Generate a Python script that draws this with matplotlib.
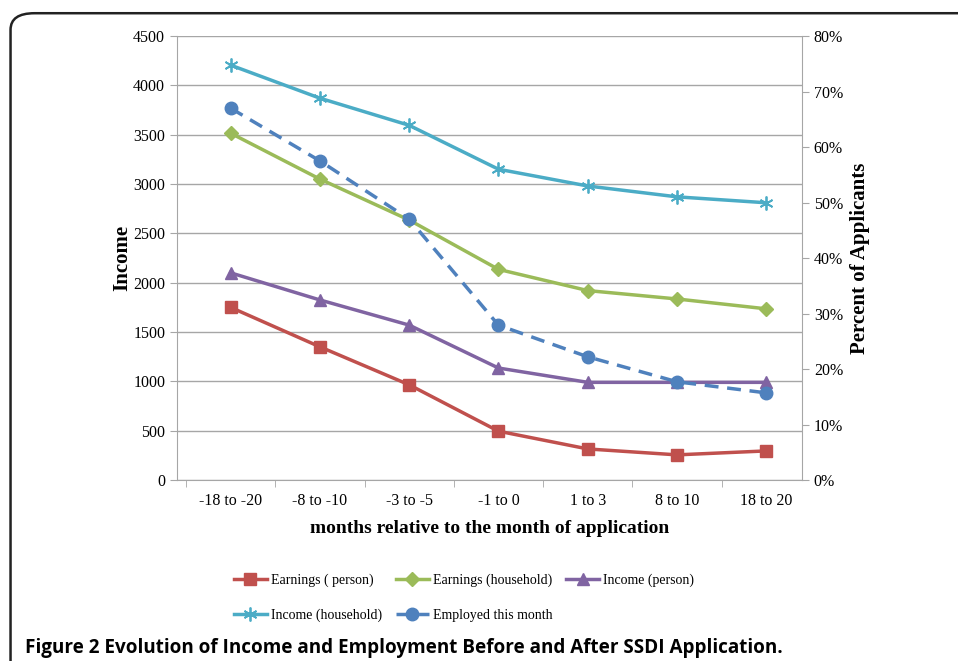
import matplotlib.pyplot as plt
from matplotlib.patches import FancyBboxPatch
from matplotlib.ticker import FuncFormatter, MultipleLocator
import numpy as np

categories = ["-18 to -20", "-8 to -10", "-3 to -5", "-1 to 0", "1 to 3", "8 to 10", "18 to 20"]
earn_person = [1750, 1350, 965, 495, 315, 255, 295]
earn_household = [3515, 3050, 2635, 2135, 1920, 1835, 1735]
inc_person = [2100, 1825, 1570, 1135, 990, 990, 990]
inc_household = [4205, 3870, 3595, 3150, 2980, 2870, 2810]
employed = [0.670, 0.575, 0.470, 0.279, 0.222, 0.177, 0.157]

serif = "Liberation Serif"
grey = "#a6a6a6"

fig = plt.figure(figsize=(9.58, 6.61), dpi=100)

# rounded frame around the figure
frame = FancyBboxPatch((0.011, -0.05), 1.05, 1.03, boxstyle="round,pad=0,rounding_size=0.025",
                       transform=fig.transFigure, fill=False, edgecolor="#222222", linewidth=1.8)
fig.patches.append(frame)

ax = fig.add_axes([0.1848, 0.2738, 0.6524, 0.6717])
x = np.arange(len(categories))

l1, = ax.plot(x, earn_person, color="#C0504D", lw=2.5, marker="s", ms=9, label="Earnings ( person)")
l2, = ax.plot(x, earn_household, color="#9BBB59", lw=2.5, marker="D", ms=7, label="Earnings (household)")
l3, = ax.plot(x, inc_person, color="#8064A2", lw=2.5, marker="^", ms=9, label="Income (person)")
l4, = ax.plot(x, inc_household, color="#4BACC6", lw=2.5, marker=(6, 2, 0), ms=10, mew=1.3,
              label="Income (household)")

ax.set_xlim(-0.6, 6.4)
ax.set_ylim(0, 4500)
ax.yaxis.set_major_locator(MultipleLocator(500))
ax.grid(axis="y", color=grey, lw=1)
ax.set_axisbelow(True)
ax.set_xticks(x)
ax.set_xticklabels(categories, fontfamily=serif, fontsize=11.5)
ax.set_xticks(np.arange(-0.5, 6.5, 1), minor=True)
ax.tick_params(axis="x", which="major", length=0, pad=9)
ax.tick_params(axis="x", which="minor", length=5, color=grey)
ax.tick_params(axis="y", length=5, color=grey, labelsize=11.5)
for lab in ax.get_yticklabels():
    lab.set_fontfamily(serif)
for s in ["top", "right"]:
    ax.spines[s].set_visible(False)
for s in ["left", "bottom"]:
    ax.spines[s].set_color(grey)

ax.set_ylabel("Income", fontfamily=serif, fontsize=15, fontweight="bold", labelpad=1)
ax.set_xlabel("months relative to the month of application", fontfamily=serif, fontsize=14,
              fontweight="bold", labelpad=8)

ax2 = ax.twinx()
l5, = ax2.plot(x, employed, color="#4F81BD", lw=2.5, ls=(0, (4, 2.5)), marker="o", ms=9,
               label="Employed this month")
ax2.set_ylim(0, 0.8)
ax2.yaxis.set_major_locator(MultipleLocator(0.1))
ax2.yaxis.set_major_formatter(FuncFormatter(lambda v, p: f"{v*100:.0f}%"))
ax2.tick_params(axis="y", length=5, color=grey, labelsize=11.5)
for lab in ax2.get_yticklabels():
    lab.set_fontfamily(serif)
for s in ["top", "left", "bottom"]:
    ax2.spines[s].set_visible(False)
ax2.spines["right"].set_color(grey)
ax2.set_ylabel("Percent of Applicants", fontfamily=serif, fontsize=15, fontweight="bold", labelpad=5)

# order handles so legend fills row by row
fig.legend(handles=[l1, l4, l2, l5, l3], loc="upper left", bbox_to_anchor=(0.231, 0.151),
           ncol=3, frameon=False, prop={"family": serif, "size": 10},
           handlelength=2.4, handletextpad=0.3, columnspacing=0.95, labelspacing=1.55)

fig.text(0.026, 0.012, "Figure 2 Evolution of Income and Employment Before and After SSDI Application.",
         fontfamily="Open Sans", fontweight="bold", fontsize=13.6)

plt.savefig("out.png", dpi=100)
